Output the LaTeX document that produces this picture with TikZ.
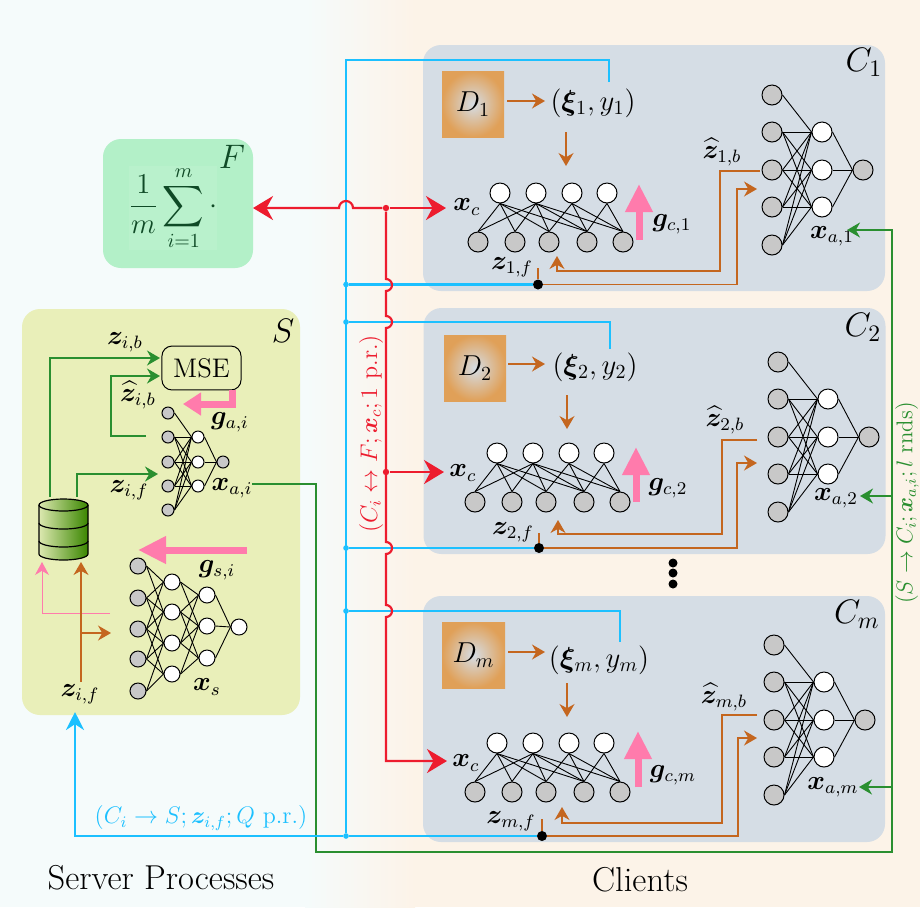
\documentclass[tikz,border=0pt]{standalone}
\usepackage{amsmath}
\usepackage{amssymb}
\usepackage[HTML]{xcolor}
\usepackage{tikz}
\usetikzlibrary{positioning, arrows, arrows.meta}
\usepackage{bm}

\definecolor{bgleft}{HTML}{F5FBFB}
\definecolor{bgright}{HTML}{FCF3E8}
\definecolor{clientfill}{HTML}{D5DDE5}
\definecolor{serverfill}{HTML}{E9EFB9}
\definecolor{fedfill}{HTML}{B3F0C8}
\definecolor{fedbox}{HTML}{B9F1CC}
\definecolor{fedtext}{HTML}{0F4A26}
\definecolor{busblue}{HTML}{1CC0FF}
\definecolor{busred}{HTML}{ED1C2E}
\definecolor{busgreen}{HTML}{2A8F30}
\definecolor{flowbrown}{HTML}{C4661F}
\definecolor{gradpink}{HTML}{FF7BAC}
\definecolor{dataout}{HTML}{E0A058}
\definecolor{unitgrey}{HTML}{C8C8C8}
\definecolor{dbleft}{HTML}{DCE8B0}
\definecolor{dbright}{HTML}{3A8600}

\tikzset{
    panel/.style={rounded corners=9pt, inner sep=0pt},
    lbl/.style={font=\large, scale=1.12, inner sep=0pt},
    bigsym/.style={font=\Large, inner sep=0pt},
    namesym/.style={font=\Large, scale=1.18, inner sep=0pt},
    databox/.style={inner sep=0pt, inner color=clientfill, outer color=dataout},
    unitwhite/.style={circle, draw=black, fill=white, line width=.5pt, minimum size=10pt, inner sep=0pt},
    unitgrey/.style={circle, draw=black, fill=unitgrey, line width=.5pt, minimum size=10pt, inner sep=0pt},
    wire/.style={black, line width=.45pt},
    blueline/.style={busblue, line width=1.2pt},
    greenline/.style={busgreen, line width=.9pt},
    redline/.style={busred, line width=1.1pt},
    brownline/.style={flowbrown, line width=.7pt},
    brownflow/.style={brownline, -{Stealth[length=6.5pt, width=7.5pt]}},
    greenflow/.style={greenline, -{Stealth[length=6.5pt, width=7.5pt]}},
    redflow/.style={redline, -{Stealth[length=10pt, width=12pt]}},
    pinkflow/.style={gradpink, line width=3.5pt, -{Stealth[length=14pt, width=13pt, inset=0pt]}},
    junction/.style={circle, fill=black, minimum size=5pt, inner sep=0pt},
    busdot/.style={circle, fill=busblue, minimum size=2.8pt, inner sep=0pt},
    reddot/.style={circle, fill=busred, minimum size=3.2pt, inner sep=0pt},
}

% white row over grey row of a client
\newcommand{\lowernet}[3]{
    \foreach \n/\px in {1/500,2/536,3/572,4/607}
        \node[unitwhite] (#1u\n) at (\px+#2,193+#3) {};
    \foreach \n/\px in {1/478,2/515,3/549,4/587,5/623}
        \node[unitgrey] (#1l\n) at (\px+#2,242+#3) {};
    \foreach \a/\b in {1/1,1/2,1/3,1/4,2/1,2/2,2/3,2/4,2/5,3/3,3/4,3/5,4/4,4/5}
        \draw[wire] (#1u\a.south) -- (#1l\b.north);
}
% auxiliary net of a client
\newcommand{\auxnet}[3]{
    \foreach \n/\py in {1/95,2/132,3/170,4/207,5/245}
        \node[unitgrey] (#1i\n) at (772+#2,\py+#3) {};
    \foreach \n/\py in {1/132,2/170,3/207}
        \node[unitwhite] (#1h\n) at (822+#2,\py+#3) {};
    \node[unitgrey] (#1o) at (863+#2,170+#3) {};
    \foreach \a/\b in {1/1,2/1,2/2,2/3,3/1,3/2,3/3,4/1,4/2,4/3,5/1,5/2,5/3}
        \draw[wire] (#1i\a.east) -- (#1h\b.west);
    \foreach \b in {1,2,3}
        \draw[wire] (#1h\b.east) -- (#1o.west);
}

\begin{document}
\begin{tikzpicture}[x=.5pt, y=-.5pt, >=Stealth]
    \useasboundingbox (0,0) rectangle (920,907);

    % 1. Background
    \fill[bgleft] (0,0) rectangle (310,907);
    \fill[bgright] (410,0) rectangle (920,907);
    \shade[left color=bgleft, right color=bgright] (305,0) rectangle (415,907);

    % 2. Panels
    \node[panel, fill=clientfill, minimum width=231pt, minimum height=123pt] (C1box) at (654,168) {};
    \node[panel, fill=clientfill, minimum width=231pt, minimum height=123pt] (C2box) at (654.5,431) {};
    \node[panel, fill=clientfill, minimum width=231pt, minimum height=123pt] (Cmbox) at (654,719) {};
    \node[panel, fill=serverfill, minimum width=139pt, minimum height=203pt] (Sbox) at (161,512) {};
    \node[panel, fill=fedfill, minimum width=75pt, minimum height=64.5pt] (Fbox) at (178,203.5) {};

    % 3. Averaging box
    \node[font=\Large, fill=fedbox, text=fedtext, inner sep=0pt] (avg) at (173,208)
        {$\displaystyle\frac{1}{m}\sum_{i=1}^{m}\cdot$};
    \node[namesym, text=fedtext] (Flabel) at (232,157) {$F$};

    % 4. Client 1
    \node[databox, minimum width=31pt, minimum height=33pt] (D1) at (473,104) {\Large$D_1$};
    \node[bigsym] (xi1) at (593,103) {$(\bm{\xi}_1,y_1)$};
    \node[namesym] (C1name) at (864,62) {$C_1$};
    \node[lbl] (xc1) at (467,207) {$\bm{x}_c$};
    \node[lbl] (gc1) at (672,224) {$\bm{g}_{c,1}$};
    \node[lbl] (zf1) at (512,267) {$\bm{z}_{1,f}$};
    \node[lbl] (zb1) at (722,152) {$\widehat{\bm{z}}_{1,b}$};
    \node[lbl] (xa1) at (832,236) {$\bm{x}_{a,1}$};
    \lowernet{a}{0}{0}
    \auxnet{a}{0}{0}
    \coordinate (d1out) at (507,101);
    \coordinate (xi1in) at (545,101);
    \coordinate (xi1down) at (566,132);
    \coordinate (net1in) at (566,166);
    \coordinate (gc1low) at (639,240);
    \coordinate (gc1up) at (639,184);
    \node[junction] (t1) at (538,284.5) {};
    \coordinate (t1up) at (538,268);
    \coordinate (aux1in) at (757,189);
    \coordinate (aux1out) at (760,171);
    \coordinate (net1back) at (557,256);
    \draw[brownflow] (d1out) -- (xi1in);
    \draw[brownflow] (xi1down) -- (net1in);
    \draw[pinkflow] (gc1low) -- (gc1up);
    \draw[brownline] (t1up) -- (t1);
    \draw[brownflow] (t1) -- (737,284.5) -- (737,189) -- (aux1in);
    \draw[brownflow] (aux1out) -- (720,171) -- (720,271) -- (557,271) -- (net1back);

    % 5. Client 2
    \node[databox, minimum width=31pt, minimum height=33pt] (D2) at (475,368) {\Large$D_2$};
    \node[bigsym] (xi2) at (595,367) {$(\bm{\xi}_2,y_2)$};
    \node[namesym] (C2name) at (863,327) {$C_2$};
    \node[lbl] (xc2) at (463,473) {$\bm{x}_c$};
    \node[lbl] (gc2) at (668,488) {$\bm{g}_{c,2}$};
    \node[lbl] (zf2) at (513,532) {$\bm{z}_{2,f}$};
    \node[lbl] (zb2) at (725,420) {$\widehat{\bm{z}}_{2,b}$};
    \node[lbl] (xa2) at (836,498) {$\bm{x}_{a,2}$};
    \lowernet{b}{-3}{260}
    \auxnet{b}{6}{267}
    \coordinate (d2out) at (508,364);
    \coordinate (xi2in) at (545,364);
    \coordinate (xi2down) at (567,395);
    \coordinate (net2in) at (567,429);
    \coordinate (gc2low) at (636,502);
    \coordinate (gc2up) at (636,447);
    \node[junction] (t2) at (539,548) {};
    \coordinate (t2up) at (539,533);
    \coordinate (aux2in) at (757,463);
    \coordinate (aux2out) at (757,440);
    \coordinate (net2back) at (558,520);
    \draw[brownflow] (d2out) -- (xi2in);
    \draw[brownflow] (xi2down) -- (net2in);
    \draw[pinkflow] (gc2low) -- (gc2up);
    \draw[brownline] (t2up) -- (t2);
    \draw[brownflow] (t2) -- (737,548) -- (737,463) -- (aux2in);
    \draw[brownflow] (aux2out) -- (722,440) -- (722,534) -- (558,534) -- (net2back);

    % 6. Client m
    \node[databox, minimum width=31.5pt, minimum height=33pt] (Dm) at (473.5,655) {\Large$D_m$};
    \node[bigsym] (xim) at (599,660) {$(\bm{\xi}_m,y_m)$};
    \node[namesym] (Cmname) at (857,614) {$C_m$};
    \node[lbl] (xcm) at (466,763) {$\bm{x}_c$};
    \node[lbl] (gcm) at (673,775) {$\bm{g}_{c,m}$};
    \node[lbl] (zfm) at (511,821) {$\bm{z}_{m,f}$};
    \node[lbl] (zbm) at (724,697) {$\widehat{\bm{z}}_{m,b}$};
    \node[lbl] (xam) at (833,787) {$\bm{x}_{a,m}$};
    \lowernet{c}{-3}{550}
    \auxnet{c}{2}{550}
    \coordinate (dmout) at (508,652);
    \coordinate (ximin) at (545,652);
    \coordinate (ximdown) at (567,683);
    \coordinate (netmin) at (567,717);
    \coordinate (gcmlow) at (638,787);
    \coordinate (gcmup) at (638,731);
    \node[junction] (tm) at (542,836) {};
    \coordinate (tmup) at (542,819);
    \coordinate (auxmin) at (757,738);
    \coordinate (auxmout) at (757,715);
    \coordinate (netmback) at (562,807);
    \draw[brownflow] (dmout) -- (ximin);
    \draw[brownflow] (ximdown) -- (netmin);
    \draw[pinkflow] (gcmlow) -- (gcmup);
    \draw[brownline] (tmup) -- (tm);
    \draw[brownflow] (tm) -- (738,836) -- (738,738) -- (auxmin);
    \draw[brownflow] (auxmout) -- (722,715) -- (722,823) -- (562,823) -- (netmback);

    % the dots between clients
    \foreach \n/\py in {1/563,2/573,3/584}
        \node[junction, minimum size=4.5pt] (more\n) at (673,\py) {};

    % 7. Server
    \node[namesym] (Sname) at (283,331) {$S$};
    \node[lbl, draw=black, line width=.5pt, rounded corners=5pt, minimum width=35.3pt, minimum height=19.6pt] (MSE) at (201.5,368) {MSE};
    \node[lbl] (zib) at (125,342) {$\bm{z}_{i,b}$};
    \node[lbl] (zhib) at (138,395) {$\widehat{\bm{z}}_{i,b}$};
    \node[lbl] (zif) at (129,490) {$\bm{z}_{i,f}$};
    \node[lbl] (gai) at (230,422) {$\bm{g}_{a,i}$};
    \node[lbl] (xai) at (232,488) {$\bm{x}_{a,i}$};
    \node[lbl] (gsi) at (217,570) {$\bm{g}_{s,i}$};
    \node[lbl] (xs) at (207,687) {$\bm{x}_s$};
    \node[lbl] (zifin) at (80,694) {$\bm{z}_{i,f}$};

    % auxiliary net of the server
    \foreach \n/\py in {1/413,2/437,3/462,4/486,5/510}
        \node[unitgrey, minimum size=6pt] (si\n) at (168,\py) {};
    \foreach \n/\py in {1/437,2/462,3/486}
        \node[unitwhite, minimum size=6pt] (sh\n) at (198,\py) {};
    \node[unitgrey, minimum size=6pt] (so) at (223,462) {};
    \foreach \a/\b in {1/1,2/1,2/2,2/3,3/1,3/2,3/3,4/1,4/2,4/3,5/1,5/2,5/3}
        \draw[wire] (si\a.east) -- (sh\b.west);
    \foreach \b in {1,2,3}
        \draw[wire] (sh\b.east) -- (so.west);

    % server net
    \foreach \n/\py in {1/566,2/598,3/629,4/659,5/691}
        \node[unitgrey, minimum size=8pt] (vi\n) at (138,\py) {};
    \foreach \n/\py in {1/582,2/612,3/643,4/674}
        \node[unitwhite, minimum size=8pt] (vh\n) at (172,\py) {};
    \foreach \n/\py in {1/595,2/626,3/658}
        \node[unitwhite, minimum size=8pt] (vk\n) at (207,\py) {};
    \node[unitwhite, minimum size=8pt] (vo) at (239,627) {};
    \foreach \a/\b in {1/1,1/2,2/1,2/2,2/3,3/1,3/2,3/3,3/4,4/2,4/3,4/4,5/3,5/4}
        \draw[wire] (vi\a.east) -- (vh\b.west);
    \foreach \a/\b in {1/1,1/2,2/1,2/2,2/3,3/1,3/2,3/3,4/2,4/3}
        \draw[wire] (vh\a.east) -- (vk\b.west);
    \foreach \a in {1,2,3}
        \draw[wire] (vk\a.east) -- (vo.west);

    % database
    \shade[draw=black, line width=.6pt, left color=dbleft, right color=dbright]
        (39,505) -- (39,554) arc[start angle=180, end angle=360, x radius=12.25pt, y radius=3pt]
        -- (88,505) arc[start angle=0, end angle=180, x radius=12.25pt, y radius=3pt] -- cycle;
    \foreach \py in {505,523,541}
        \draw[black, line width=.6pt] (39,\py) arc[start angle=180, end angle=360, x radius=12.25pt, y radius=3pt];
    \coordinate (dbz1) at (50,497);
    \coordinate (dbz2) at (77,497);
    \coordinate (dbpink) at (42,562);
    \coordinate (dbbrown) at (81,562);

    % server arrows
    \coordinate (msein1) at (160,358);
    \coordinate (msein2) at (160,376);
    \coordinate (zhatout) at (146,436);
    \coordinate (auxin) at (158,474);
    \coordinate (mseout) at (232,390);
    \coordinate (gradend) at (183,404);
    \coordinate (gsstart) at (247,550);
    \coordinate (gsend) at (138,550);
    \coordinate (pinkfrom) at (110,613);
    \coordinate (zfup) at (81,682);
    \coordinate (zfbranch) at (81,633);
    \coordinate (vin) at (111,633);
    \draw[greenflow] (dbz1) |- (msein1);
    \draw[greenflow] (zhatout) -- (111,436) |- (msein2);
    \draw[greenflow] (dbz2) |- (auxin);
    \draw[gradpink, line width=3.5pt, -{Stealth[length=9pt, width=11pt, inset=0pt]}] (mseout) -- (232,404) -- (gradend);
    \draw[pinkflow] (gsstart) -- (gsend);
    \draw[gradpink, line width=.5pt, -{Stealth[length=6.5pt, width=7pt]}] (pinkfrom) -| (dbpink);
    \draw[brownflow, line width=.55pt] (zfup) -- (dbbrown);
    \draw[brownflow, line width=.55pt] (zfbranch) -- (vin);

    % 8. Green model bus
    \coordinate (xaout) at (252,484);
    \coordinate (ga1) at (847,230);
    \coordinate (ga2) at (860,496);
    \coordinate (gam) at (859,787);
    \draw[greenflow] (xaout) -- (316,484) -- (316,852) -- (892,852) -- (892,230) -- (ga1);
    \draw[greenflow] (892,496) -- (ga2);
    \draw[greenflow] (892,787) -- (gam);

    % 9. Blue bus
    \node[busdot] (b1) at (346,284.5) {};
    \node[busdot] (b2) at (346,322) {};
    \node[busdot] (b3) at (346,548) {};
    \node[busdot] (b4) at (346,611) {};
    \node[busdot] (b5) at (346,836) {};
    \coordinate (xi1top) at (609,82);
    \coordinate (xi2top) at (610,349);
    \coordinate (ximtop) at (620,642);
    \coordinate (srvin) at (75,712);
    \draw[blueline] (xi1top) -- (609,60) -- (346,60) -- (b5);
    \draw[blueline] (b1) -- (t1);
    \draw[blueline] (xi2top) -- (610,322) -- (b2);
    \draw[blueline] (b3) -- (t2);
    \draw[blueline] (ximtop) -- (620,611) -- (b4);
    \draw[blueline] (b5) -- (tm);
    \draw[blueline, -{Stealth[length=9pt, width=9pt]}] (b5) -| (srvin);

    % 10. Red bus, it hops over the blue lines
    \node[reddot] (r1) at (386,208) {};
    \node[reddot] (r2) at (386,472) {};
    \coordinate (rtop) at (446,208);
    \coordinate (rmid) at (444,472);
    \coordinate (rlow) at (447,761);
    \coordinate (rF) at (253,208);
    \draw[redflow] (r1) -- (rtop);
    \draw[redflow] (r2) -- (rmid);
    \draw[redflow] (r1) -- (353,208) arc[start angle=0, end angle=180, radius=3.5pt] -- (rF);
    \draw[redflow] (r1) -- (386,279) arc[start angle=90, end angle=-90, radius=3pt]
        -- (386,316) arc[start angle=90, end angle=-90, radius=3pt]
        -- (386,542) arc[start angle=90, end angle=-90, radius=3pt]
        -- (386,605) arc[start angle=90, end angle=-90, radius=3pt]
        -- (386,761) -- (rlow);

    % 11. Bus texts
    \node[text=busred, font=\large, rotate=90, inner sep=0pt] (redtxt) at (371,434)
        {$(C_i\leftrightarrow F;\bm{x}_c;1\ \mathrm{p.r.})$};
    \node[text=busgreen, font=\large, scale=.95, rotate=90, inner sep=0pt] (greentxt) at (907,503)
        {$(S\rightarrow C_i;\bm{x}_{a,i};l\ \mathrm{rnds})$};
    \node[text=busblue, font=\large, inner sep=0pt] (bluetxt) at (201,818)
        {$(C_i\rightarrow S;\bm{z}_{i,f};Q\ \mathrm{p.r.})$};

    % 12. Captions
    \node[font=\LARGE, inner sep=0pt] (srvcap) at (161,878) {Server Processes};
    \node[font=\LARGE, inner sep=0pt] (clicap) at (640,880) {Clients};
\end{tikzpicture}
\end{document}
